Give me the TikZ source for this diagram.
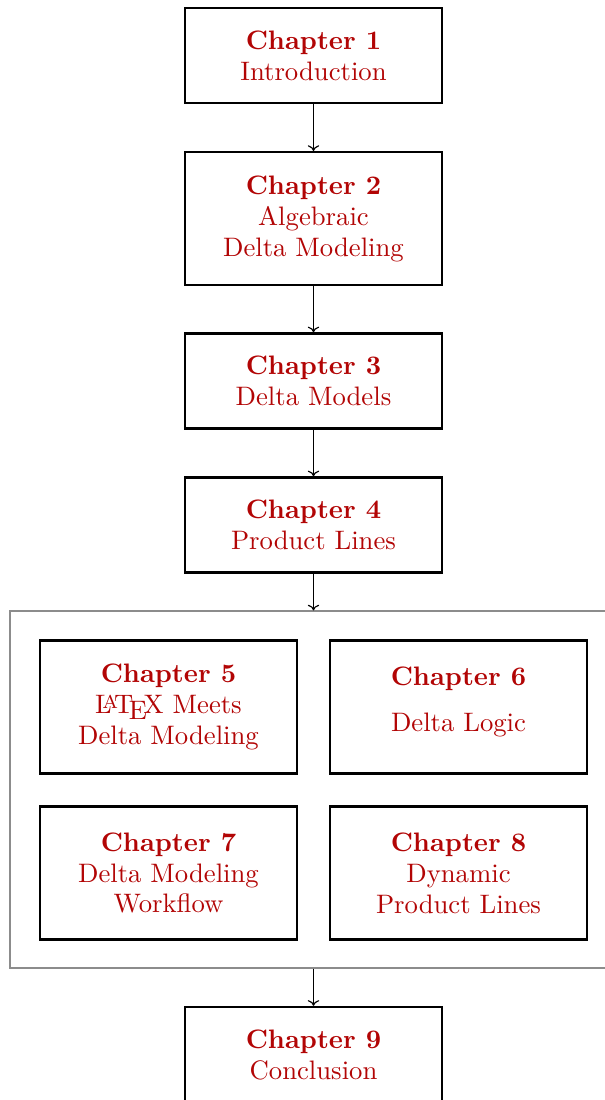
\documentclass[tikz,border=0pt]{standalone}
\usetikzlibrary{arrows.meta}
\definecolor{chapred}{rgb}{0.70,0.02,0.02}
\begin{document}
\begin{tikzpicture}[x=0.3876pt,y=-0.3876pt,
  chap/.style={draw=black,line width=0.95pt,align=center,text=chapred,
    minimum width=99.6pt,inner sep=0pt,font=\fontsize{10.35pt}{12pt}\selectfont},
  two/.style={minimum height=36.8pt},
  three/.style={minimum height=51.4pt},
  grp/.style={draw=black!45,line width=0.45pt,minimum width=235.3pt,minimum height=138.4pt,inner sep=0pt},
  conn/.style={-{To[length=2.2pt,width=4.4pt]},line width=0.45pt}]
\useasboundingbox (0,0) rectangle (605,1100);
\node[chap,two]   (c1) at (313.5,55.5)  {\textbf{Chapter 1}\\Introduction};
\node[chap,three] (c2) at (313.5,218.5) {\textbf{Chapter 2}\\Algebraic\\Delta Modeling};
\node[chap,two]   (c3) at (313.5,381)   {\textbf{Chapter 3}\\Delta Models};
\node[chap,two]   (c4) at (313.5,525)   {\textbf{Chapter 4}\\Product Lines};
\node[grp]        (g)  at (313.5,789.5) {};
\node[chap,three] (c5) at (168.5,707)   {\textbf{Chapter 5}\\\LaTeX{} Meets\\Delta Modeling};
\node[chap,three] (c6) at (458.5,707)   {\textbf{Chapter 6}\\[6pt]Delta Logic\\[-6pt]\mbox{}};
\node[chap,three] (c7) at (168.5,873)   {\textbf{Chapter 7}\\Delta Modeling\\Workflow};
\node[chap,three] (c8) at (458.5,873)   {\textbf{Chapter 8}\\Dynamic\\Product Lines};
\node[chap,two]   (c9) at (313.5,1054.5){\textbf{Chapter 9}\\Conclusion};
\draw[conn] (c1) -- (c2);
\draw[conn] (c2) -- (c3);
\draw[conn] (c3) -- (c4);
\draw[conn] (c4) -- (g);
\draw[conn] (g) -- (c9);
\end{tikzpicture}
\end{document}
